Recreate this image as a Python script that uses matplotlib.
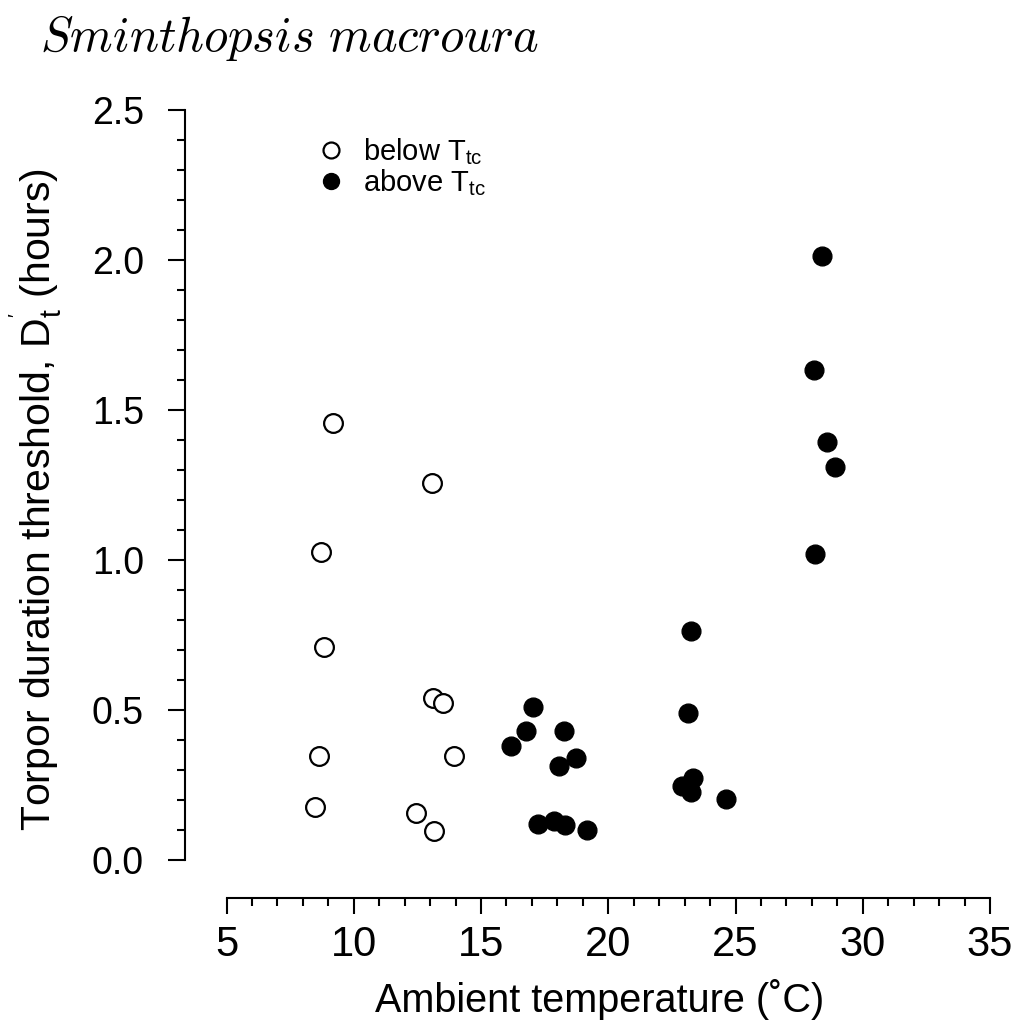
import matplotlib
matplotlib.use("Agg")
import matplotlib.pyplot as plt

# data (ambient temperature C, threshold hours)
below_t = [9.19, 13.08, 8.71, 8.83, 13.12, 13.51, 8.64, 13.94, 8.48, 12.45, 13.16]
below_d = [1.457, 1.257, 1.027, 0.71, 0.54, 0.523, 0.347, 0.347, 0.177, 0.157, 0.097]

above_t = [17.05, 16.77, 16.18, 18.27, 18.07, 18.74, 17.25, 17.87, 18.31, 19.17,
           23.14, 23.26, 23.34, 22.9, 23.26, 24.63,
           28.4, 28.09, 28.6, 28.92, 28.13]
above_d = [0.51, 0.43, 0.38, 0.43, 0.313, 0.34, 0.12, 0.13, 0.117, 0.10,
           0.49, 0.763, 0.273, 0.247, 0.227, 0.203,
           2.013, 1.633, 1.393, 1.31, 1.02]

xticks = [5, 10, 15, 20, 25, 30, 35]
yticks = [0.0, 0.5, 1.0, 1.5, 2.0, 2.5]
xminor = list(range(5, 36))
yminor = [i / 10 for i in range(26)]

plt.rcParams['mathtext.fontset'] = 'custom'
plt.rcParams['mathtext.rm'] = 'Liberation Sans'
plt.rcParams['mathtext.it'] = 'Liberation Sans:italic'

sans = ['Liberation Sans', 'DejaVu Sans']

fig = plt.figure(figsize=(10.16, 10.30), dpi=100)
ax = fig.add_axes([185 / 1016, 1 - 860 / 1030, (990 - 185) / 1016, (860 - 110) / 1030])

ax.plot(below_t, below_d, 'o', ms=13.5, mfc='white', mec='black', mew=1.6,
        label=r'below T$_{\rm tc}$', clip_on=False)
ax.plot(above_t, above_d, 'o', ms=13.5, mfc='black', mec='black', mew=1.0,
        label=r'above T$_{\rm tc}$', clip_on=False)

ax.set_xlim(5 - 41.5 / 25.44, 35)
ax.set_ylim(0, 2.5)

ax.spines['top'].set_visible(False)
ax.spines['right'].set_visible(False)
ax.spines['bottom'].set_position(('outward', 27.4))
ax.spines['bottom'].set_bounds(5, 35)
ax.spines['left'].set_bounds(0, 2.5)
for s in ['bottom', 'left']:
    ax.spines[s].set_linewidth(1.5)

ax.set_xticks(xticks)
ax.set_yticks(yticks)
ax.set_xticks(xminor, minor=True)
ax.set_yticks(yminor, minor=True)
ax.tick_params(axis='x', which='major', direction='out', length=11.5, width=1.5, pad=8)
ax.tick_params(axis='x', which='minor', direction='out', length=5.8, width=1.5)
ax.tick_params(axis='y', which='major', direction='out', length=12.5, width=1.5, pad=17)
ax.tick_params(axis='y', which='minor', direction='out', length=6, width=1.5)

ax.set_xticklabels([str(t) for t in xticks], family=sans, fontsize=30)
ax.set_yticklabels(['%.1f' % t for t in yticks], family=sans, fontsize=27)

ax.set_xlabel('Ambient temperature (\u02daC)', family=sans, fontsize=28.5, labelpad=10)
ax.set_ylabel(r"Torpor duration threshold, D$_{\rm t}^{\rm '}$ (hours)",
              family=sans, fontsize=29.5, labelpad=20)
ax.xaxis.label.set_x(0.5155)
ax.yaxis.label.set_y(0.48)

fig.text(40 / 1016, 1 - 38 / 1030, r'$Sminthopsis\ macroura$', math_fontfamily='cm',
         fontsize=35, ha='left', va='center')

leg = ax.legend(loc='upper left', bbox_to_anchor=(290 / 1016, 1 - 110 / 1030),
                bbox_transform=fig.transFigure, frameon=False, markerscale=0.85,
                handlelength=1.0, handletextpad=0.6, labelspacing=0.0,
                prop={'family': sans, 'size': 21})

fig.savefig('out.png', dpi=100)
